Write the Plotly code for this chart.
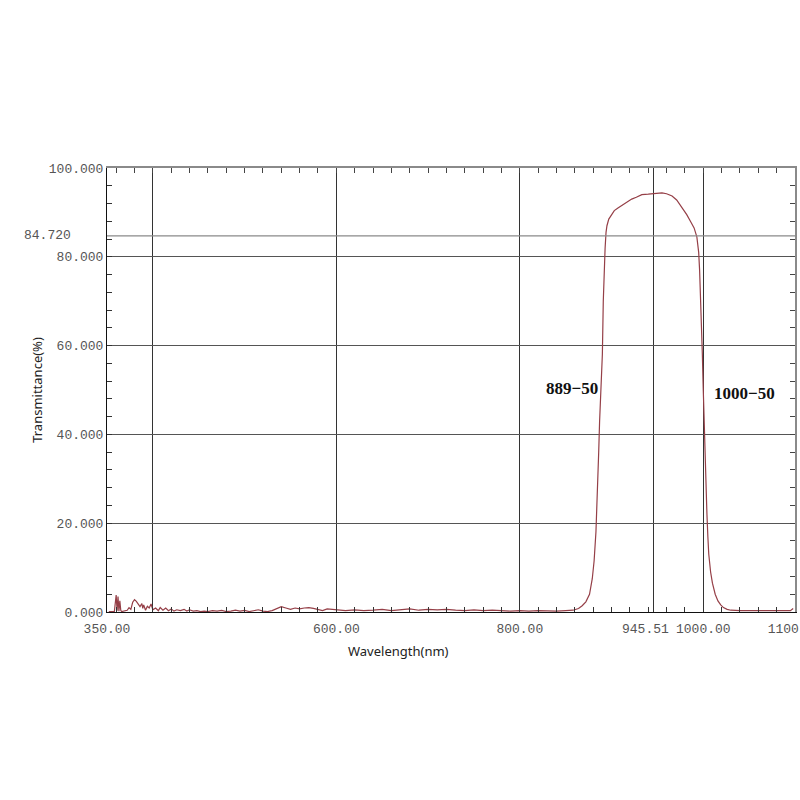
import plotly.graph_objects as go

# transmittance curve
wavelength = [
    352, 356, 358, 360, 361, 362, 363, 364, 365, 366, 370, 372, 374, 376, 378,
    380, 382, 384, 386, 388, 389, 390, 392, 394, 396, 398, 400, 403, 406, 408,
    411, 414, 417, 420, 423, 426, 430, 434, 437, 440, 444, 448, 452, 456, 460,
    465, 470, 475, 480, 485, 490, 495, 500, 505, 510, 515, 520, 525, 530, 535,
    540, 545, 550, 555, 560, 565, 570, 575, 580, 585, 590, 595, 600, 610, 620,
    630, 640, 650, 660, 670, 680, 690, 700, 710, 720, 730, 740, 750, 760, 770,
    780, 790, 800, 810, 820, 830, 840, 850, 858, 864, 868, 872, 876, 879, 881,
    883, 885, 886, 887, 888, 889, 890, 891, 892, 893, 894, 895, 897, 900, 903,
    907, 912, 917, 922, 927, 933, 940, 945, 950, 955, 960, 966, 971, 977, 982,
    986, 990, 993, 995, 996, 997, 998, 999, 1000, 1001, 1002, 1003, 1004, 1005,
    1006, 1008, 1010, 1013, 1016, 1019, 1022, 1026, 1030, 1040, 1050, 1060,
    1070, 1080, 1090, 1095, 1098,
]
transmittance = [
    0.1, 0.2, 0.1, 3.8, 0.3, 3.5, 0.2, 2.5, 0.4, 0.1, 0.2, 0.4, 1.0, 0.6, 2.2,
    2.8, 2.4, 1.8, 1.2, 1.9, 0.8, 1.6, 0.4, 1.3, 0.9, 1.8, 0.5, 0.9, 0.3, 1.0,
    0.4, 0.9, 0.3, 0.7, 0.2, 0.5, 0.3, 0.6, 0.2, 0.5, 0.2, 0.3, 0.1, 0.2, 0.1,
    0.3, 0.2, 0.35, 0.1, 0.2, 0.4, 0.2, 0.35, 0.1, 0.3, 0.5, 0.2, 0.1, 0.3, 0.8,
    1.2, 0.9, 0.6, 0.9, 0.7, 0.9, 1.0, 0.8, 0.6, 0.3, 0.7, 0.6, 0.4, 0.3, 0.5,
    0.3, 0.4, 0.6, 0.3, 0.5, 0.7, 0.4, 0.6, 0.5, 0.6, 0.4, 0.3, 0.5, 0.3, 0.4,
    0.3, 0.2, 0.3, 0.2, 0.3, 0.2, 0.2, 0.3, 0.4, 0.8, 1.4, 2.3, 4.0, 7.5, 11.5,
    18.0, 28.0, 36.0, 43.0, 48.0, 50.5, 58.0, 70.0, 78.0, 82.0, 85.5, 87.0, 88.5, 89.6, 90.4,
    91.0, 91.7, 92.3, 93.0, 93.4, 94.0, 94.1, 94.2, 94.2, 94.4, 94.2, 93.7, 92.8, 91.0, 89.5,
    88.0, 86.5, 84.5, 81.0, 77.0, 72.0, 65.0, 58.0, 50.0, 42.0, 35.0, 28.0, 22.0, 17.0,
    13.0, 9.0, 6.5, 4.0, 2.5, 1.6, 1.0, 0.6, 0.4, 0.3, 0.3, 0.3,
    0.3, 0.3, 0.3, 0.3, 0.8,
]

x_tick_vals = [350, 400, 600, 800, 945.51, 1000, 1100]
x_tick_text = ["350.00", "", "600.00", "800.00", "", "1000.00", "1100.00"]
y_tick_vals = [0, 20, 40, 60, 80, 100]
y_tick_text = ["0.000", "20.000", "40.000", "60.000", "80.000", "100.000"]
centre_wl = 945.51
peak_level = 84.72
edge_labels = ["889−50", "1000−50"]

tick_font = dict(family="Liberation Mono", size=13, color="#555555")
label_font = dict(family="Liberation Serif", size=17, color="#111111")

fig = go.Figure()
fig.add_trace(go.Scatter(
    x=wavelength, y=transmittance, mode="lines",
    line=dict(color="#953f47", width=1.2), showlegend=False,
))
# dummy trace so the top/right frame axes get drawn
fig.add_trace(go.Scatter(
    x=[wavelength[0]], y=[transmittance[0]], xaxis="x2", yaxis="y2",
    mode="markers", marker=dict(opacity=0), showlegend=False, hoverinfo="skip",
))

fig.add_hline(y=peak_level, line=dict(color="#8a8a8a", width=1.2))

fig.add_annotation(
    text=f"{peak_level:.3f}", xref="paper", yref="y", x=-0.05, y=peak_level,
    xanchor="right", yanchor="middle", showarrow=False, font=tick_font,
)
# centre wavelength label sits a little left of its gridline, as on the printout
fig.add_annotation(
    text=f"{centre_wl:.2f}", xref="x", yref="paper", x=centre_wl, y=-0.0405,
    xanchor="center", yanchor="middle", xshift=-8, showarrow=False,
    font=tick_font,
)
fig.add_annotation(
    text=f"<b>{edge_labels[0]}</b>", x=887, y=50.3, xanchor="right",
    showarrow=False, font=label_font,
)
fig.add_annotation(
    text=f"<b>{edge_labels[1]}</b>", x=1010, y=49.2, xanchor="left",
    showarrow=False, font=label_font,
)
fig.add_annotation(
    text="Wavelength(nm)", xref="paper", yref="paper", x=0.4244, y=-0.088,
    xanchor="center", yanchor="middle", showarrow=False,
    font=dict(family="Noto Sans", size=13, color="#222222"),
)
fig.add_annotation(
    text="Transmittance(%)", xref="paper", yref="paper", x=-0.102, y=0.5,
    xanchor="center", yanchor="middle", textangle=-90, showarrow=False,
    font=dict(family="Noto Sans", size=13, color="#222222"),
)

fig.update_layout(
    width=800, height=800,
    margin=dict(l=107, r=5, t=168, b=188, autoexpand=False),
    plot_bgcolor="white", paper_bgcolor="white",
    xaxis=dict(
        range=[350, 1100], tickmode="array", tickvals=x_tick_vals,
        ticktext=x_tick_text, tickfont=tick_font, tickangle=0,
        ticklabeloverflow="allow", ticklabelstandoff=4, automargin=False,
        showgrid=True, gridcolor="#333333", gridwidth=1,
        showline=True, linecolor="#111111", linewidth=1,
        ticks="inside", ticklen=5, tickcolor="#333333",
        minor=dict(tickmode="linear", tick0=0, dtick=20, ticks="inside",
                   ticklen=5, tickcolor="#333333", showgrid=False),
        zeroline=False,
    ),
    yaxis=dict(
        range=[0, 100], tickmode="array", tickvals=y_tick_vals,
        ticktext=y_tick_text, tickfont=tick_font, automargin=False,
        showgrid=True, gridcolor="#555555", gridwidth=1,
        showline=True, linecolor="#111111", linewidth=1,
        ticks="inside", ticklen=5, tickcolor="#333333",
        minor=dict(tickmode="linear", tick0=0, dtick=4, ticks="inside",
                   ticklen=5, tickcolor="#333333", showgrid=False),
        zeroline=False,
    ),
    xaxis2=dict(
        range=[350, 1100], overlaying="x", side="top", anchor="y",
        automargin=False,
        showticklabels=False, showgrid=False, zeroline=False,
        showline=True, linecolor="#8a8a8a", linewidth=1.5,
        tickmode="linear", tick0=0, dtick=20, ticks="inside",
        ticklen=5, tickcolor="#444444",
    ),
    yaxis2=dict(
        range=[0, 100], overlaying="y", side="right", anchor="x",
        automargin=False,
        showticklabels=False, showgrid=False, zeroline=False,
        showline=True, linecolor="#8a8a8a", linewidth=1.5,
        tickmode="linear", tick0=0, dtick=4, ticks="inside",
        ticklen=5, tickcolor="#444444",
    ),
)

# drop the default 8px body margin so the 800x800 figure fills the window
fig.write_html(
    "out.html",
    config={"displayModeBar": False},
    post_script="document.body.style.margin='0px';",
)
